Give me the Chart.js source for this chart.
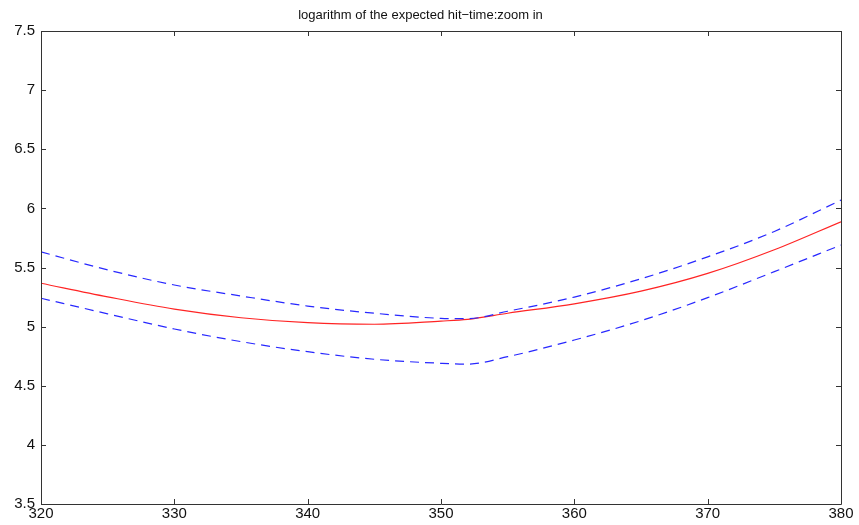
<!DOCTYPE html>
<html>
<head>
<meta charset="utf-8">
<script src="https://cdn.jsdelivr.net/npm/chart.js@4/dist/chart.umd.min.js"></script>
<style>
html,body{margin:0;padding:0;background:#fff;}
#wrap{width:859px;height:525px;}
</style>
</head>
<body>
<div id="wrap"><canvas id="c" width="859" height="525"></canvas></div>
<script>
const titleText = "logarithm of the expected hit\u2212time:zoom in";
const xValues = [320, 325, 330, 335, 340, 345, 350, 352, 355, 360, 365, 370, 375, 380];
const meanValues = [5.367, 5.252, 5.148, 5.075, 5.033, 5.02, 5.047, 5.062, 5.113, 5.193, 5.30, 5.45, 5.65, 5.887];
const upperValues = [5.632, 5.48, 5.352, 5.259, 5.174, 5.113, 5.07, 5.067, 5.13, 5.25, 5.405, 5.59, 5.805, 6.07];
const lowerValues = [5.24, 5.108, 4.98, 4.873, 4.788, 4.724, 4.69, 4.683, 4.746, 4.887, 5.05, 5.245, 5.465, 5.69];
const xTicks = [320, 330, 340, 350, 360, 370, 380];
const yTicks = [3.5, 4, 4.5, 5, 5.5, 6, 6.5, 7, 7.5];

const pts = arr => xValues.map((x, i) => ({x: x, y: arr[i]}));

const boxPlugin = {
  id: 'boxTicks',
  afterDatasetsDraw(chart) {
    const {ctx, chartArea: a, scales: {x, y}} = chart;
    ctx.save();
    ctx.strokeStyle = '#333';
    ctx.lineWidth = 1;
    ctx.beginPath();
    ctx.rect(Math.round(a.left) + 0.5, Math.round(a.top) + 0.5, Math.round(a.right - a.left), Math.round(a.bottom - a.top));
    const L = 5;
    xTicks.forEach(v => {
      const px = Math.round(x.getPixelForValue(v)) + 0.5;
      ctx.moveTo(px, a.bottom); ctx.lineTo(px, a.bottom - L);
      ctx.moveTo(px, a.top); ctx.lineTo(px, a.top + L);
    });
    yTicks.forEach(v => {
      const py = Math.round(y.getPixelForValue(v)) + 0.5;
      ctx.moveTo(a.left, py); ctx.lineTo(a.left + L, py);
      ctx.moveTo(a.right, py); ctx.lineTo(a.right - L, py);
    });
    ctx.stroke();
    ctx.restore();
  }
};

const lineStyle = {pointRadius: 0, cubicInterpolationMode: 'monotone', fill: false, borderWidth: 1.2};

new Chart(document.getElementById('c'), {
  type: 'line',
  data: {
    datasets: [
      Object.assign({data: pts(upperValues), borderColor: '#2828ff', borderDash: [9, 6]}, lineStyle),
      Object.assign({data: pts(lowerValues), borderColor: '#2828ff', borderDash: [9, 6]}, lineStyle),
      Object.assign({data: pts(meanValues), borderColor: '#ff2424'}, lineStyle)
    ]
  },
  options: {
    responsive: false,
    animation: false,
    layout: {padding: {left: 0, right: 18, top: 0, bottom: 0}},
    plugins: {
      legend: {display: false},
      tooltip: {enabled: false},
      title: {
        display: true,
        text: titleText,
        color: '#111',
        font: {family: 'Liberation Sans', size: 13, weight: 'normal', lineHeight: 1.2},
        padding: {top: 8, bottom: 7.4}
      }
    },
    scales: {
      x: {
        type: 'linear',
        min: 320, max: 380,
        afterBuildTicks: s => { s.ticks = xTicks.map(v => ({value: v})); },
        afterFit: s => { s.height = 21; },
        grid: {display: false, drawTicks: false},
        border: {display: false},
        ticks: {color: '#111', padding: 1, maxRotation: 0, font: {family: 'Liberation Sans', size: 15}}
      },
      y: {
        type: 'linear',
        min: 3.5, max: 7.5,
        afterBuildTicks: s => { s.ticks = yTicks.map(v => ({value: v})); },
        afterFit: s => { s.width = 41; },
        grid: {display: false, drawTicks: false},
        border: {display: false},
        ticks: {color: '#111', padding: 6, font: {family: 'Liberation Sans', size: 15}, callback: v => String(v)}
      }
    }
  },
  plugins: [boxPlugin]
});
</script>
</body>
</html>
